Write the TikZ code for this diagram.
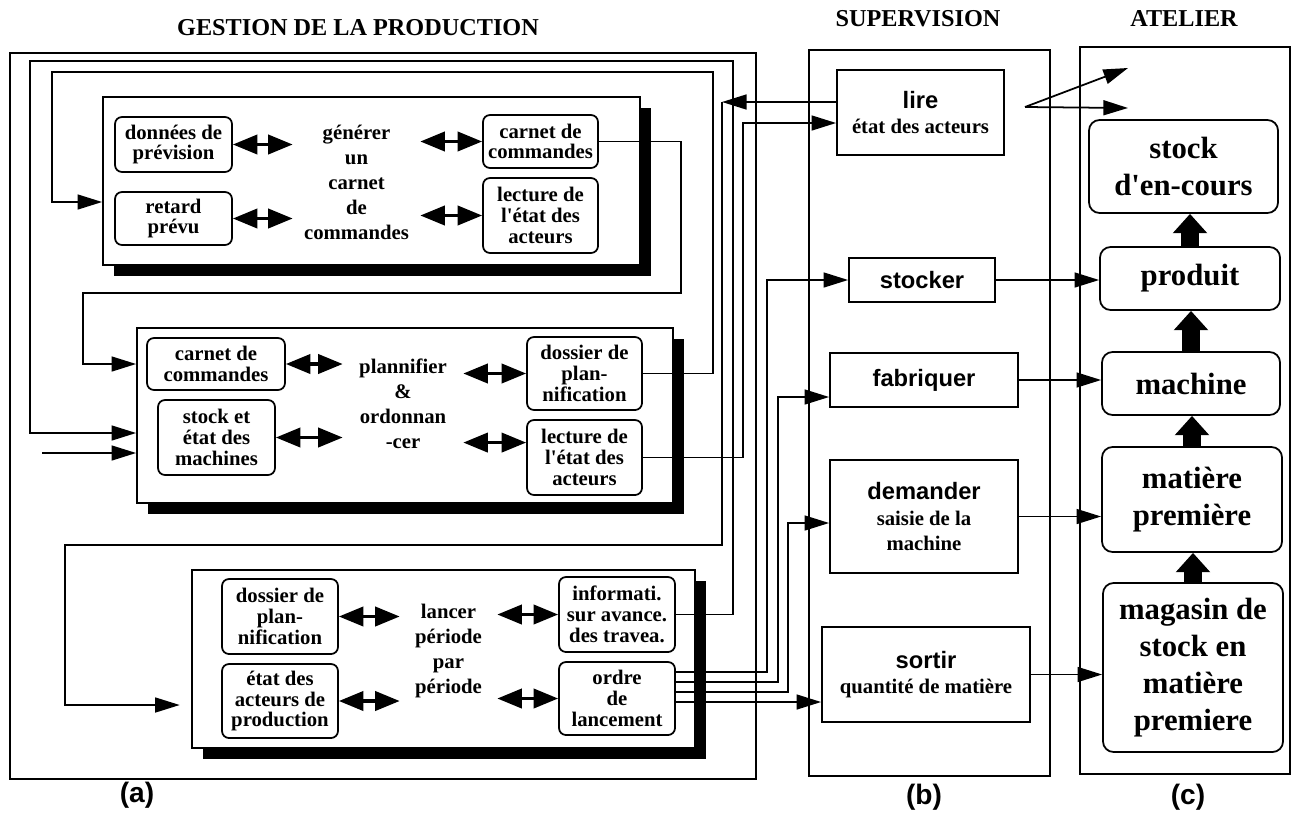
\documentclass[tikz,border=0pt]{standalone}
\usepackage{fontspec}
\setmainfont{Liberation Serif}
\setsansfont{Liberation Sans}
\usepackage{tikz}
\usetikzlibrary{arrows.meta,shadows}

\newcommand{\verbe}[1]{{\sffamily\fontsize{13.5}{15.4}\selectfont #1}}

\begin{document}
\begin{tikzpicture}[
    x=0.02cm, y=-0.02cm,
    dims/.style 2 args={minimum width=#1*0.02cm, minimum height=#2*0.02cm},
    group/.style={draw=black, line width=1.1pt},
    panel/.style={rectangle, draw=black, line width=1pt, fill=white, inner sep=0pt, drop shadow={shadow xshift=6.3pt, shadow yshift=-6.3pt, opacity=1, fill=black}},
    item/.style={rectangle, draw=black, line width=1pt, rounded corners=4pt, align=center, inner sep=1pt, font=\bfseries\fontsize{11.8}{11.8}\selectfont},
    task/.style={align=center, inner sep=0pt, font=\bfseries\fontsize{11.8}{14.2}\selectfont},
    supbox/.style={rectangle, draw=black, line width=1pt, align=center, inner sep=1pt, font=\bfseries\fontsize{11.8}{14.6}\selectfont},
    shop/.style={rectangle, draw=black, line width=1pt, rounded corners=6pt, align=center, inner sep=1pt, font=\bfseries\fontsize{17.5}{21}\selectfont},
    heading/.style={font=\bfseries\fontsize{13.8}{16}\selectfont},
    tag/.style={font=\sffamily\bfseries\fontsize{16}{18}\selectfont},
    dbl/.style={{Triangle[length=14pt,width=11pt]}-{Triangle[length=14pt,width=11pt]}, line width=1.8pt},
    wire/.style={line width=1pt},
    arrow/.style={wire, -{Triangle[length=14pt,width=8.5pt]}},
    fat/.style={-{Triangle[length=11pt,width=19pt]}, line width=10pt}
]
    \useasboundingbox (0,0) rectangle (1297,815);

    \node[heading] (titA) at (358,28) {GESTION DE LA PRODUCTION};
    \node[heading] (titB) at (918,19) {SUPERVISION};
    \node[heading] (titC) at (1184,18) {ATELIER};

    \draw[group] (10,53) rectangle (756,779);
    \draw[group] (809,50) rectangle (1050,776);
    \draw[group] (1080,47) rectangle (1290,774);

    \node[panel, dims={537}{168}] (gen) at (371.5,181) {};
    \node[item, dims={117}{55}] (donnees) at (173.5,144.5) {données de\\prévision};
    \node[item, dims={117}{53}] (retard) at (173.5,218.5) {retard\\prévu};
    \node[task, dims={127}{0}] (gentxt) at (356.5,182) {générer\\un\\carnet\\de\\commandes};
    \node[item, dims={115}{53}] (carnetA) at (540.5,141.5) {carnet de\\commandes};
    \node[item, dims={115}{75}] (lectA) at (540.5,215.5) {lecture de\\l\textquotesingle état des\\acteurs};

    \node[panel, dims={536}{175}] (plan) at (405,415.5) {};
    \node[item, dims={138}{52}] (carnetB) at (216,364) {carnet de\\commandes};
    \node[item, dims={117}{75}] (stockB) at (216.5,437.5) {stock et\\état des\\machines};
    \node[task, dims={120}{0}] (plantxt) at (403,404) {plannifier\\\&\\ordonnan\\-cer};
    \node[item, dims={115}{73}] (dossierB) at (584.5,373.5) {dossier de\\plan-\\nification};
    \node[item, dims={115}{75}] (lectB) at (584.5,457.5) {lecture de\\l\textquotesingle état des\\acteurs};

    \node[panel, dims={503}{178}] (lance) at (443.5,659) {};
    \node[item, dims={116}{75}] (dossierC) at (280,616.5) {dossier de\\plan-\\nification};
    \node[item, dims={116}{74}] (etatC) at (280,701) {état des\\acteurs de\\production};
    \node[task, dims={97}{0}] (lancetxt) at (448.5,651) {lancer\\période\\par\\période};
    \node[item, dims={116}{75}] (infoC) at (617,614.5) {informati.\\sur avance.\\des travea.};
    \node[item, dims={116}{73}] (ordreC) at (617,698.5) {ordre\\de\\lancement};

    \node[supbox, dims={167}{85}] (lire) at (920.5,112.5) {\verbe{lire}\\état des acteurs};
    \node[supbox, dims={146}{44}] (stocker) at (922,280) {\verbe{stocker}};
    \node[supbox, dims={188}{54}] (fabriquer) at (924,380) {\verbe{fabriquer}};
    \node[supbox, dims={188}{113}] (demander) at (924,516.5) {\verbe{demander}\\saisie de la\\machine};
    \node[supbox, dims={208}{95}] (sortir) at (926,674.5) {\verbe{sortir}\\quantité de matière};

    \node[shop, dims={189}{93}] (encours) at (1183.5,166.5) {stock\\d\textquotesingle en-cours};
    \node[shop, dims={180}{63}] (produit) at (1190,278.5) {produit};
    \node[shop, dims={178}{63}] (machine) at (1191,383.5) {machine};
    \node[shop, dims={180}{105}] (matiere) at (1192,499.5) {matière\\première};
    \node[shop, dims={180}{169}] (magasin) at (1193,667.5) {magasin de\\stock en\\matière\\premiere};

    \node[tag] (labA) at (137,795) {(a)};
    \node[tag] (labB) at (924,797) {(b)};
    \node[tag] (labC) at (1188,797) {(c)};

    \draw[dbl] (donnees.east) -- (donnees.east -| gentxt.west);
    \draw[dbl] (retard.east) -- (retard.east -| gentxt.west);
    \draw[dbl] (carnetA.west -| gentxt.east) -- (carnetA.west);
    \draw[dbl] (lectA.west -| gentxt.east) -- (lectA.west);
    \draw[dbl] (carnetB.east) -- (carnetB.east -| plantxt.west);
    \draw[dbl] (stockB.east) -- (stockB.east -| plantxt.west);
    \draw[dbl] (dossierB.west -| plantxt.east) -- (dossierB.west);
    \draw[dbl] ([yshift=8.5pt]lectB.west -| plantxt.east) -- ([yshift=8.5pt]lectB.west);
    \draw[dbl] (dossierC.east) -- (dossierC.east -| lancetxt.west);
    \draw[dbl] (etatC.east) -- (etatC.east -| lancetxt.west);
    \draw[dbl] (infoC.west -| lancetxt.east) -- (infoC.west);
    \draw[dbl] (ordreC.west -| lancetxt.east) -- (ordreC.west);

    \draw[fat] (produit.north) -- (produit.north |- encours.south);
    \draw[fat] (machine.north) -- (machine.north |- produit.south);
    \draw[fat] (matiere.north) -- (matiere.north |- machine.south);
    \draw[fat] (magasin.north) -- (magasin.north |- matiere.south);

    \coordinate (lireout) at (1025,107);
    \coordinate (upA) at (1128,68);
    \coordinate (upB) at (1128,108);
    \draw[arrow] (lireout) -- (upA);
    \draw[arrow] (lireout) -- (upB);
    \draw[arrow] (stocker.east) -- (stocker.east -| produit.west);
    \draw[arrow] (fabriquer.east) -- (fabriquer.east -| machine.west);
    \draw[arrow] (demander.east) -- (demander.east -| matiere.west);
    \draw[arrow] (sortir.east) -- (sortir.east -| magasin.west);

    \draw[arrow] (carnetA.east) -| (681,293) -| (83,364) -- (plan.west |- carnetB);
    \draw[arrow] (dossierB.east) -| (713,72) -| (52,202) -- (gen.west |- 52,202);
    \draw[arrow] (lectB.east) -| (743,123) -- (lire.west |- 743,123);
    \draw[arrow] (lire.west |- 722,102) -- (722,102);
    \draw[arrow, shorten >=6.5pt] (722,102) |- (65,545) |- (lance.west |- 65,705);
    \draw[arrow] (infoC.east) -| (733,61) -| (30,433) -- (plan.west |- 30,433);
    \coordinate (extin) at (42,453);
    \draw[arrow] (extin) -- (plan.west |- extin);
    \draw[arrow] (ordreC.east |- 0,672) -| (767,280) -- (stocker.west);
    \draw[arrow] (ordreC.east |- 0,682) -| (778,397) -- (fabriquer.west |- 778,397);
    \draw[arrow] (ordreC.east |- 0,692) -| (788,523) -- (demander.west |- 788,523);
    \draw[arrow] (ordreC.east |- 0,702) -- (sortir.west |- 0,702);
\end{tikzpicture}
\end{document}
